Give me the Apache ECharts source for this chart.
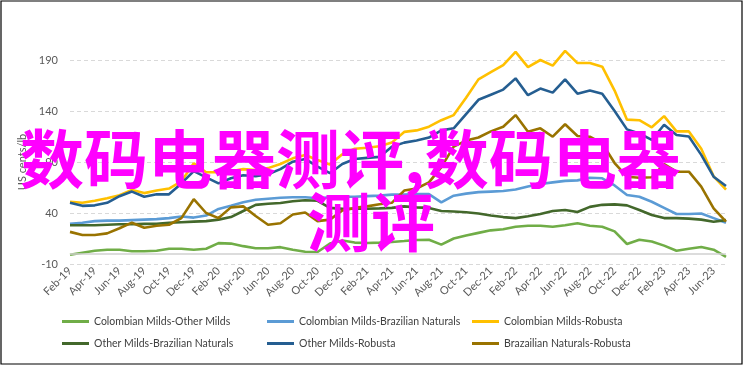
<!DOCTYPE html>
<html><head><meta charset="utf-8">
<script src="https://cdn.jsdelivr.net/npm/echarts@6/dist/echarts.min.js"></script>
<style>html,body{margin:0;padding:0;background:#fff}#c{width:744px;height:366px}</style>
</head><body><div id="c"></div>
<script>
const months = ['Feb-19','Mar-19','Apr-19','May-19','Jun-19','Jul-19','Aug-19','Sep-19','Oct-19','Nov-19','Dec-19','Jan-20',
'Feb-20','Mar-20','Apr-20','May-20','Jun-20','Jul-20','Aug-20','Sep-20','Oct-20','Nov-20','Dec-20','Jan-21',
'Feb-21','Mar-21','Apr-21','May-21','Jun-21','Jul-21','Aug-21','Sep-21','Oct-21','Nov-21','Dec-21','Jan-22',
'Feb-22','Mar-22','Apr-22','May-22','Jun-22','Jul-22','Aug-22','Sep-22','Oct-22','Nov-22','Dec-22','Jan-23',
'Feb-23','Mar-23','Apr-23','May-23','Jun-23','Jul-23'];
const yMin = -10, yMax = 190, yStep = 50;

const colOther = [-1,1,3,4,4,2.5,2.5,3,5,5,4,5,10.5,10,7.5,5.5,5.5,6.5,4,2,1.8,10,13,11,10.6,11,11.6,12.5,13.5,13.8,9,15,18,20.5,23,24,26.5,27.5,27.5,26.5,28,30,27.5,26.5,22,9.6,13.8,12,8,3,5,6.7,4,-3];
const colBraz = [29.5,30.5,32,32.5,32.5,33,33.5,34,35,36.5,35.5,37.5,44,47,50.5,53,54,55,55.5,55.5,54.5,55.5,56,56,56.5,57,58,58,58.5,58.5,50.5,57,59,60.5,61,61.5,63,66,68.5,70,71.5,72,74.5,74,67,57.6,56,51,45,39,39,39.5,35,30.5];
const colRob = [51,50,52,54.5,57.5,62.5,59.5,62,64,71,88.7,80,80,81,83,82,84,88,93.6,96.9,92,87.5,97.5,103,104,105.5,109,119.5,121,124.6,131,136,153,171,178,185,198,183,190,184.5,199,187,187,183.5,160,131.5,131,124,135,120,120,103,76,63];
const othBraz = [28,28,28,28.5,29,29,29.3,29.5,30.5,31,31.5,32,33.5,36,42,48,49,49.8,51.5,52.5,52,45,44,44.2,44.2,44.5,45,46.5,45.5,45,42,41.5,40.7,39.5,37.5,36,35,36.8,39,42,43,41,46,48,48.5,47.5,43,38,35,35,34.5,33.5,31.5,33];
const othRob = [50,47,47.5,50,56.5,61,56,58.3,58.3,69,81,75,69,74,77,76,78,83,90.3,93,85.4,79,88,93,94,95,105,109,111,114,121,123,137,151,156,161,172,155.5,162,158,171,157,160,157,140,122,118,111.6,126.5,116.5,115,97,75.6,66.5];
const brazRob = [21.5,18.5,18.5,20,25,30.5,25.5,27.5,28.5,35,53.5,40,35,45.5,46.5,37,28.5,30,38.5,40.5,32,33.5,42.5,45,46.5,48.5,50,62,64,70,85,105,111,114,120,124.6,136,119.7,123,114.8,127,115.5,114.8,108.3,89,75.6,74.5,75,88,80.5,80.5,65.8,44.6,31.5];

const seriesDefs = [
  {name:'Colombian Milds-Other Milds', data: colOther, color:'#70AD47'},
  {name:'Colombian Milds-Brazilian Naturals', data: colBraz, color:'#5B9BD5'},
  {name:'Colombian Milds-Robusta', data: colRob, color:'#FFC000'},
  {name:'Other Milds-Brazilian Naturals', data: othBraz, color:'#43682B'},
  {name:'Other Milds-Robusta', data: othRob, color:'#255E91'},
  {name:'Brazailian Naturals-Robusta', data: brazRob, color:'#997300'}
];
const legendPos = [[62,316],[267,316],[472,316],[62,338],[267,338],[472,338]];
const font = 'Lato, "Open Sans", sans-serif';

const chart = echarts.init(document.getElementById('c'), null, {renderer:'canvas'});
chart.setOption({
  animation: false,
  backgroundColor: '#fff',
  grid: {left:70, right:18, top:60, bottom:102, containLabel:false},
  xAxis: {
    type:'category', data: months, boundaryGap:false,
    axisLine:{show:false}, axisTick:{show:false},
    axisLabel:{interval:1, rotate:45, fontSize:11, color:'#595959', fontFamily:font, margin:5},
    splitLine:{show:false}
  },
  yAxis: {
    type:'value', min:yMin, max:yMax, interval:yStep,
    name:'US cents/lb', nameLocation:'middle', nameGap:36, nameRotate:90,
    nameTextStyle:{fontSize:11, color:'#595959', fontFamily:font},
    axisLine:{show:false}, axisTick:{show:false},
    axisLabel:{fontSize:11, color:'#595959', fontFamily:font, margin:12},
    splitLine:{show:true, lineStyle:{color:'#D9D9D9', type:[4,3], width:1}}
  },
  legend: seriesDefs.map((s,i)=>({
    data:[s.name], left:legendPos[i][0], top:legendPos[i][1], padding:0,
    icon:'rect', itemWidth:27, itemHeight:3, itemGap:0,
    textStyle:{fontSize:10.5, color:'#404040', fontFamily:font}
  })),
  series: seriesDefs.map((s,i)=>{
    const o = {
      name:s.name, type:'line', data:s.data, showSymbol:false, symbol:'none', clip:false,
      lineStyle:{width:2.6, color:s.color}, itemStyle:{color:s.color},
      emphasis:{disabled:true}
    };
    if (i===0) {
      o.markLine = {silent:true, symbol:'none', label:{show:false},
        lineStyle:{color:'#D0D0D0', type:'solid', width:1.5},
        data:[{yAxis:0}]};
    }
    return o;
  }),
  graphic: [
    {type:'rect', shape:{x:1, y:1, width:741, height:363}, style:{fill:'none', stroke:'#000', lineWidth:1.2}, z:50},
    {type:'text', x:20, y:159, z:100, style:{text:'数码电器测评,数码电器', font:'bold 64px "Noto Sans CJK SC"', fill:'#FF00FF', textAlign:'left', textVerticalAlign:'middle', align:'left', verticalAlign:'middle'}},
    {type:'text', x:307, y:222, z:100, style:{text:'测评', font:'bold 64px "Noto Sans CJK SC"', fill:'#FF00FF', textAlign:'left', textVerticalAlign:'middle', align:'left', verticalAlign:'middle'}}
  ]
});
</script></body></html>
